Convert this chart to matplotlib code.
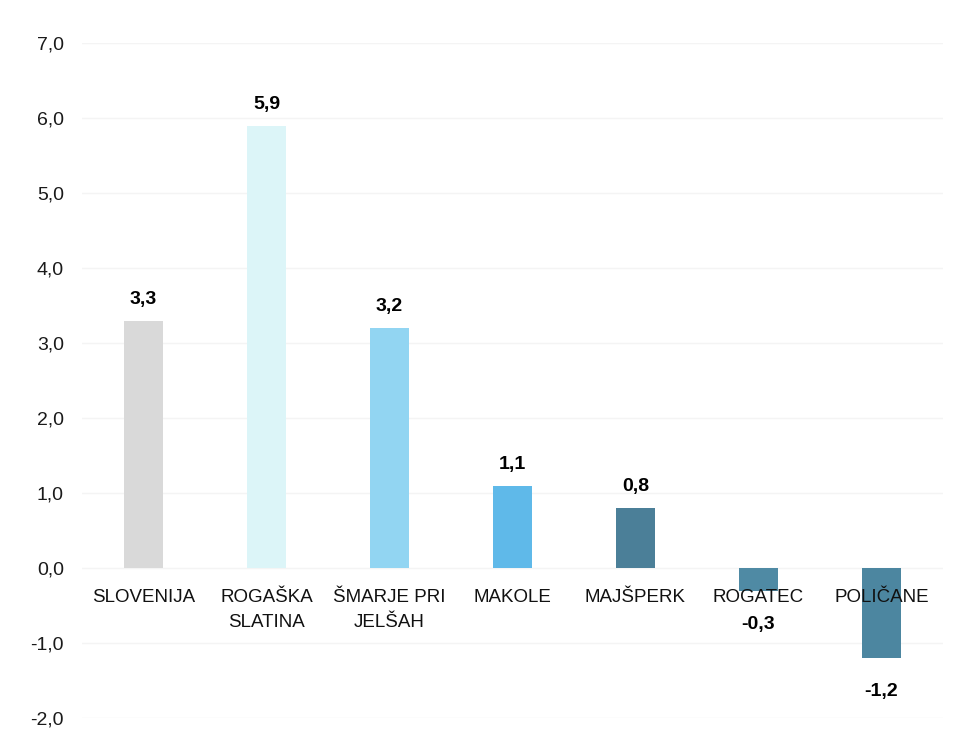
import matplotlib

matplotlib.use("Agg")
import matplotlib.pyplot as plt

categories = ["SLOVENIJA", "ROGAŠKA\nSLATINA", "ŠMARJE PRI\nJELŠAH", "MAKOLE",
              "MAJŠPERK", "ROGATEC", "POLIČANE"]
values = [3.3, 5.9, 3.2, 1.1, 0.8, -0.3, -1.2]
colors = ["#d9d9d9", "#dcf5f8", "#92d5f2", "#5fb9e9", "#4b7f98", "#4f8aa4", "#4c86a0"]
yticks = [-2, -1, 0, 1, 2, 3, 4, 5, 6, 7]

plt.rcParams["font.family"] = ["Liberation Sans", "DejaVu Sans"]

fig = plt.figure(figsize=(9.55, 7.45), dpi=100)
ax = fig.add_axes([82 / 955, 27 / 745, 861 / 955, 675 / 745])

x = list(range(len(values)))
ax.bar(x, values, width=0.31, color=colors, zorder=2)

ax.set_xlim(-0.5, len(values) - 0.5)
ax.set_ylim(-2, 7)
ax.set_yticks(yticks)
ax.set_yticklabels([f"{t:.1f}".replace(".", ",") for t in yticks], fontsize=14,
                   color="#1a1a1a")
ax.tick_params(axis="y", length=0, pad=13)
ax.set_xticks([])
ax.grid(axis="y", color="#f4f4f4", linewidth=1, zorder=0)
for s in ax.spines.values():
    s.set_visible(False)

for xi, v, lab in zip(x, values, categories):
    txt = f"{v:.1f}".replace(".", ",")
    if v >= 0:
        ax.annotate(txt, (xi, v), xytext=(0, 9), textcoords="offset points",
                    ha="center", va="bottom", fontsize=14, fontweight="bold")
    else:
        ax.annotate(txt, (xi, v), xytext=(0, -18), textcoords="offset points",
                    ha="center", va="top", fontsize=14, fontweight="bold")
    ax.annotate(lab, (xi, 0), xytext=(0, -15), textcoords="offset points",
                ha="center", va="top", fontsize=13.5, linespacing=1.6,
                color="#111111", zorder=3)

fig.savefig("out.png", dpi=100)
